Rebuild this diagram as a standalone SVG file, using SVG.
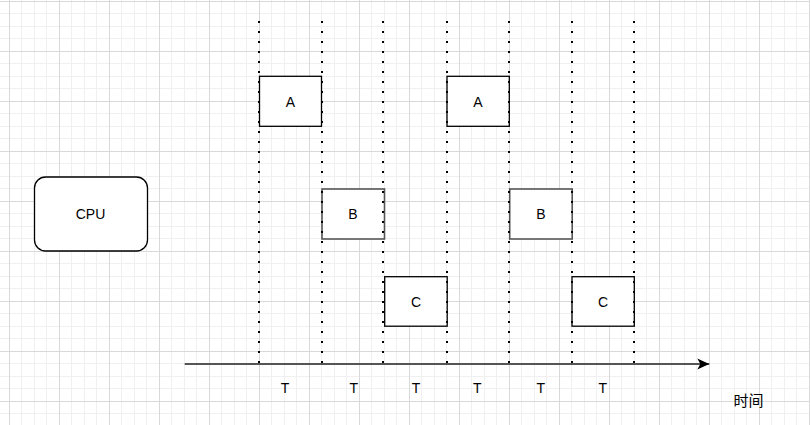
<svg xmlns="http://www.w3.org/2000/svg" width="810" height="425" viewBox="0 0 810 425">
  <defs>
    <pattern id="grid" x="9" y="1" width="50" height="50" patternUnits="userSpaceOnUse">
      <rect x="12" y="0" width="1" height="50" fill="#f0f0f0"/>
      <rect x="25" y="0" width="1" height="50" fill="#f0f0f0"/>
      <rect x="37" y="0" width="1" height="50" fill="#f0f0f0"/>
      <rect x="0" y="12" width="50" height="1" fill="#f0f0f0"/>
      <rect x="0" y="25" width="50" height="1" fill="#f0f0f0"/>
      <rect x="0" y="37" width="50" height="1" fill="#f0f0f0"/>
      <rect x="0" y="0" width="1" height="50" fill="#d9d9d9"/>
      <rect x="0" y="0" width="50" height="1" fill="#d9d9d9"/>
    </pattern>
    <marker id="arrow" viewBox="0 0 13 12" refX="12.5" refY="6" markerWidth="13" markerHeight="12" markerUnits="userSpaceOnUse" orient="auto">
      <path d="M12.5,6 L0.5,0.5 L3.5,6 L0.5,11.5 Z" fill="#000"/>
    </marker>
  </defs>
  <style>
    .box { fill: #ffffff; stroke: #000000; stroke-width: 1.3; }
    .boxg { fill: #ffffff; stroke: #555555; stroke-width: 1.6; }
    .lbl { font-family: "Liberation Sans", Arial, sans-serif; font-size: 14px; fill: #000; text-anchor: middle; dominant-baseline: central; }
    .cjk { font-family: "Liberation Sans", "Noto Sans CJK SC", sans-serif; font-size: 15px; fill: #000; text-anchor: middle; dominant-baseline: central; }
    .dot { stroke: #000; stroke-width: 2; stroke-dasharray: 2 8; fill: none; }
  </style>
  <rect x="0" y="0" width="810" height="425" fill="#ffffff"/>
  <rect x="0" y="0" width="810" height="425" fill="url(#grid)"/>

  <g id="cpu">
    <rect class="box" x="34.5" y="177" width="113" height="74" rx="11" ry="11"/>
    <text class="lbl" x="90.5" y="214">CPU</text>
  </g>

  <g id="a1">
    <rect class="box" x="259.5" y="76.3" width="62" height="50"/>
    <text class="lbl" x="290.5" y="101.5">A</text>
  </g>
  <g id="b1">
    <rect class="boxg" x="322" y="189" width="62.5" height="50"/>
    <text class="lbl" x="353" y="214">B</text>
  </g>
  <g id="c1">
    <rect class="box" x="384.7" y="276.7" width="62.5" height="49.5"/>
    <text class="lbl" x="416" y="301.5">C</text>
  </g>
  <g id="a2">
    <rect class="box" x="447" y="76.3" width="62.3" height="50"/>
    <text class="lbl" x="478" y="101.5">A</text>
  </g>
  <g id="b2">
    <rect class="boxg" x="509.7" y="189" width="62.5" height="50"/>
    <text class="lbl" x="541" y="214">B</text>
  </g>
  <g id="c2">
    <rect class="box" x="572" y="276.7" width="62.3" height="49.5"/>
    <text class="lbl" x="603" y="301.5">C</text>
  </g>

  <g id="timeslots">
    <line class="dot" x1="259" y1="21" x2="259" y2="363"/>
    <line class="dot" x1="322" y1="21" x2="322" y2="363"/>
    <line class="dot" x1="383" y1="21" x2="383" y2="363"/>
    <line class="dot" x1="447" y1="21" x2="447" y2="363"/>
    <line class="dot" x1="509" y1="21" x2="509" y2="363"/>
    <line class="dot" x1="572" y1="21" x2="572" y2="363"/>
    <line class="dot" x1="634" y1="21" x2="634" y2="363"/>
  </g>

  <g id="connectors">
    <line x1="184.7" y1="364" x2="709.3" y2="364" stroke="#555555" stroke-width="2" marker-end="url(#arrow)"/>
  </g>

  <g id="labels">
    <text class="lbl" x="285" y="388.3">T</text>
    <text class="lbl" x="353.7" y="388.3">T</text>
    <text class="lbl" x="416" y="388.3">T</text>
    <text class="lbl" x="477.3" y="388.3">T</text>
    <text class="lbl" x="540.7" y="388.3">T</text>
    <text class="lbl" x="602.7" y="388.3">T</text>
    <text class="cjk" x="748.5" y="400.5">时间</text>
  </g>
</svg>
